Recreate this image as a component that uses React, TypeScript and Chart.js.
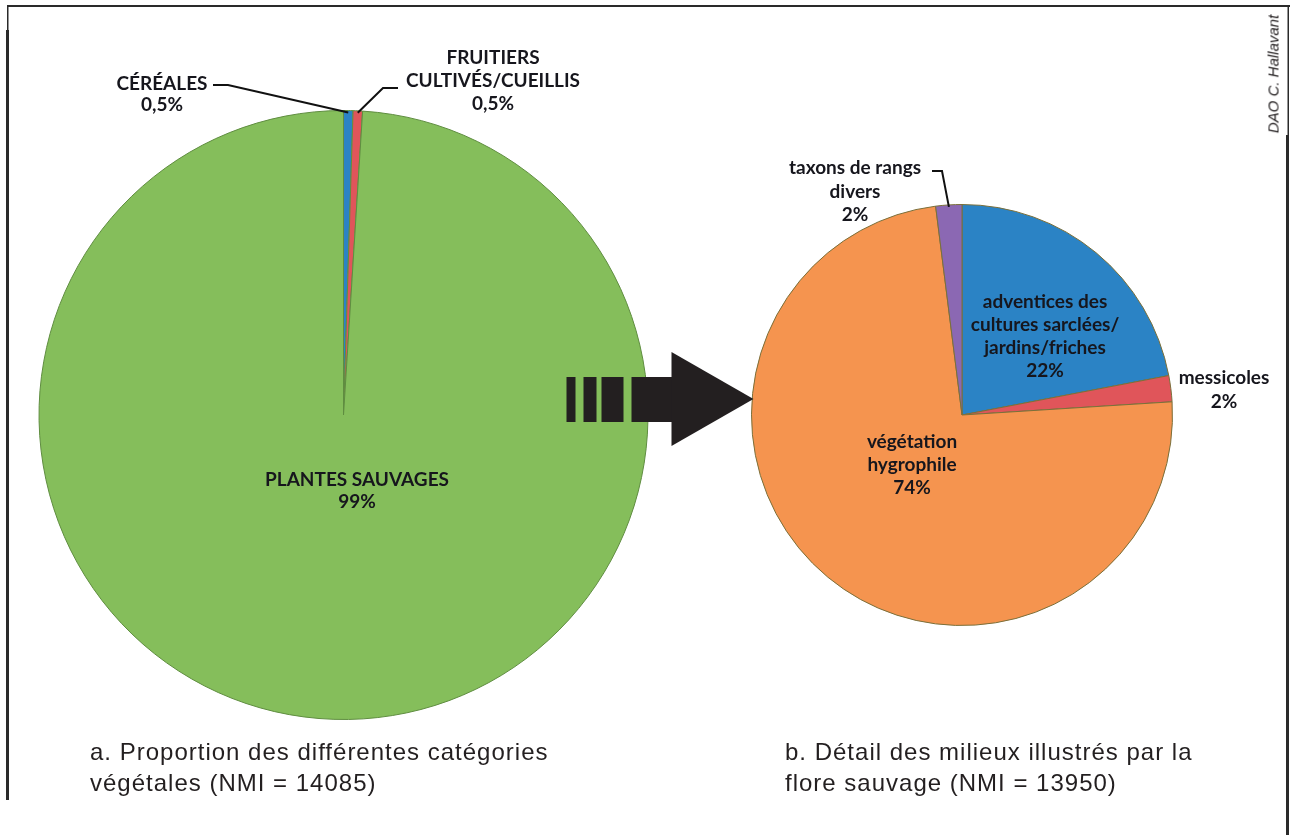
import React, { useEffect, useRef } from "react";
import { Chart, registerables } from "chart.js";

Chart.register(...registerables);

// ---------- data ----------
const leftCategories = ["CÉRÉALES", "FRUITIERS CULTIVÉS/CUEILLIS", "PLANTES SAUVAGES"];
const leftValues = [0.5, 0.5, 99];
const leftPercentLabels = ["0,5%", "0,5%", "99%"];
const leftLabelLines = [["CÉRÉALES"], ["FRUITIERS", "CULTIVÉS/CUEILLIS"], ["PLANTES SAUVAGES"]];

const rightCategories = [
  "adventices des cultures sarclées/jardins/friches",
  "messicoles",
  "végétation hygrophile",
  "taxons de rangs divers",
];
const rightValues = [22, 2, 74, 2];
const rightPercentLabels = ["22%", "2%", "74%", "2%"];
const rightLabelLines = [
  ["adventices des", "cultures sarclées/", "jardins/friches"],
  ["messicoles"],
  ["végétation", "hygrophile"],
  ["taxons de rangs", "divers"],
];

const captionA = ["a. Proportion des différentes catégories", "végétales (NMI = 14085)"];
const captionB = ["b. Détail des milieux illustrés par la", "flore sauvage (NMI = 13950)"];
const creditText = "DAO C. Hallavant";

// ---------- styles / layout ----------
const leftColors = ["#2b83c5", "#e0555a", "#85be5b"];
const rightColors = ["#2b83c5", "#e0555a", "#f5944f", "#8b68b3"];
const LABEL_FONT = "bold 19px Lato";
const TEXT_COLOR = "#16161d";

type Place = { dx: number; dy: number; lh: number; leader?: number[][] };
const leftPlaces: Place[] = [
  { dx: -181.5, dy: -331, lh: 21, leader: [[-130.5, -330], [-115.5, -330]] },
  { dx: 149.5, dy: -357, lh: 23, leader: [[54.5, -327], [39.5, -327]] },
  { dx: 13.5, dy: 65, lh: 22 },
];
const rightPlaces: Place[] = [
  { dx: 83, dy: -113, lh: 23 },
  { dx: 262, dy: -37, lh: 24 },
  { dx: -50, dy: 27, lh: 23 },
  { dx: -107, dy: -247, lh: 23.5, leader: [[-30, -244], [-20, -244]] },
];

function makeLabelPlugin(id: string, lines: string[][], pcts: string[], places: Place[]) {
  return {
    id,
    afterDatasetsDraw(chart: any) {
      const ctx = chart.ctx as CanvasRenderingContext2D;
      const meta = chart.getDatasetMeta(0);
      ctx.save();
      ctx.font = LABEL_FONT;
      ctx.fillStyle = TEXT_COLOR;
      ctx.strokeStyle = "#111";
      ctx.lineWidth = 2;
      ctx.textAlign = "center";
      ctx.textBaseline = "middle";
      meta.data.forEach((el: any, i: number) => {
        const p = places[i];
        if (!p) return;
        const cx = el.x;
        const cy = el.y;
        const block = [...lines[i], pcts[i]];
        block.forEach((t, k) => ctx.fillText(t, cx + p.dx, cy + p.dy + k * p.lh));
        if (p.leader) {
          const mid = (el.startAngle + el.endAngle) / 2;
          const ex = cx + Math.cos(mid) * (el.outerRadius - 2);
          const ey = cy + Math.sin(mid) * (el.outerRadius - 2);
          ctx.beginPath();
          ctx.moveTo(cx + p.leader[0][0], cy + p.leader[0][1]);
          for (let k = 1; k < p.leader.length; k++) ctx.lineTo(cx + p.leader[k][0], cy + p.leader[k][1]);
          ctx.lineTo(ex, ey);
          ctx.stroke();
        }
      });
      ctx.restore();
    },
  };
}

const framePlugin = {
  id: "frame",
  afterDraw(chart: any) {
    const ctx = chart.ctx as CanvasRenderingContext2D;
    ctx.save();
    ctx.fillStyle = "#2a2a2a";
    ctx.fillRect(7, 5, 1283, 2); // top
    ctx.fillRect(7, 5, 1.5, 26); // left thin
    ctx.fillRect(6, 30, 3, 770); // left thick
    ctx.fillRect(1287.5, 5, 1.5, 131); // right thin
    ctx.fillRect(1286, 135, 3, 700); // right thick
    ctx.restore();
  },
};

const arrowPlugin = {
  id: "arrow",
  afterDraw(chart: any) {
    const ctx = chart.ctx as CanvasRenderingContext2D;
    const el: any = chart.getDatasetMeta(0).data[0];
    if (!el) return;
    const tipX = el.x - el.outerRadius + 2;
    const tipY = el.y - 16;
    ctx.save();
    ctx.fillStyle = "#231f20";
    const bars = [[-187, -178], [-170, -157], [-152, -130], [-122, -81]];
    bars.forEach(([a, b]) => ctx.fillRect(tipX + a, tipY - 22, b - a, 45));
    ctx.beginPath();
    ctx.moveTo(tipX - 82, tipY - 47);
    ctx.lineTo(tipX, tipY);
    ctx.lineTo(tipX - 82, tipY + 47);
    ctx.closePath();
    ctx.fill();
    ctx.restore();
  },
};

export default function App() {
  const leftRef = useRef<HTMLCanvasElement>(null);
  const rightRef = useRef<HTMLCanvasElement>(null);

  useEffect(() => {
    document.body.style.margin = "0";
    const common = {
      animation: false as const,
      responsive: false,
      maintainAspectRatio: false,
      events: [] as any[],
      plugins: { legend: { display: false }, tooltip: { enabled: false } },
    };
    const left = new Chart(leftRef.current!, {
      type: "pie",
      data: {
        labels: leftCategories,
        datasets: [
          {
            data: leftValues,
            backgroundColor: leftColors,
            borderColor: "#5f8d40",
            borderWidth: 1,
          },
        ],
      },
      options: {
        ...common,
        layout: { padding: { left: 38, right: 644, top: 110, bottom: 115 } },
      },
      plugins: [framePlugin, makeLabelPlugin("leftLabels", leftLabelLines, leftPercentLabels, leftPlaces)],
    } as any);
    const right = new Chart(rightRef.current!, {
      type: "pie",
      data: {
        labels: rightCategories,
        datasets: [
          {
            data: rightValues,
            backgroundColor: rightColors,
            borderColor: "#7a6f3a",
            borderWidth: 1,
          },
        ],
      },
      options: {
        ...common,
        layout: { padding: { left: 751, right: 120, top: 204, bottom: 209 } },
      },
      plugins: [arrowPlugin, makeLabelPlugin("rightLabels", rightLabelLines, rightPercentLabels, rightPlaces)],
    } as any);
    document.fonts.load(LABEL_FONT).then(() => {
      left.update();
      right.update();
    });
    return () => {
      left.destroy();
      right.destroy();
    };
  }, []);

  const captionStyle: React.CSSProperties = {
    position: "absolute",
    top: 736,
    fontFamily: "'Liberation Sans', Arial, sans-serif",
    fontSize: 24,
    lineHeight: "31px",
    letterSpacing: "1px",
    color: "#231f20",
    whiteSpace: "nowrap",
  };

  return (
    <div style={{ position: "absolute", left: 0, top: 0, width: 1293, height: 835, background: "#fff", overflow: "hidden" }}>
      <canvas ref={leftRef} width={1293} height={835} style={{ position: "absolute", left: 0, top: 0 }} />
      <canvas ref={rightRef} width={1293} height={835} style={{ position: "absolute", left: 0, top: 0 }} />
      <div style={{ ...captionStyle, left: 90 }}>
        {captionA.map((l) => (
          <div key={l}>{l}</div>
        ))}
      </div>
      <div style={{ ...captionStyle, left: 785 }}>
        {captionB.map((l) => (
          <div key={l}>{l}</div>
        ))}
      </div>
      <div
        style={{
          position: "absolute",
          left: 1273,
          top: 74,
          transform: "translate(-50%, -50%) rotate(-90deg)",
          fontFamily: "'Liberation Sans', Arial, sans-serif",
          fontStyle: "italic",
          fontSize: 15,
          color: "#231f20",
          whiteSpace: "nowrap",
        }}
      >
        {creditText}
      </div>
    </div>
  );
}
